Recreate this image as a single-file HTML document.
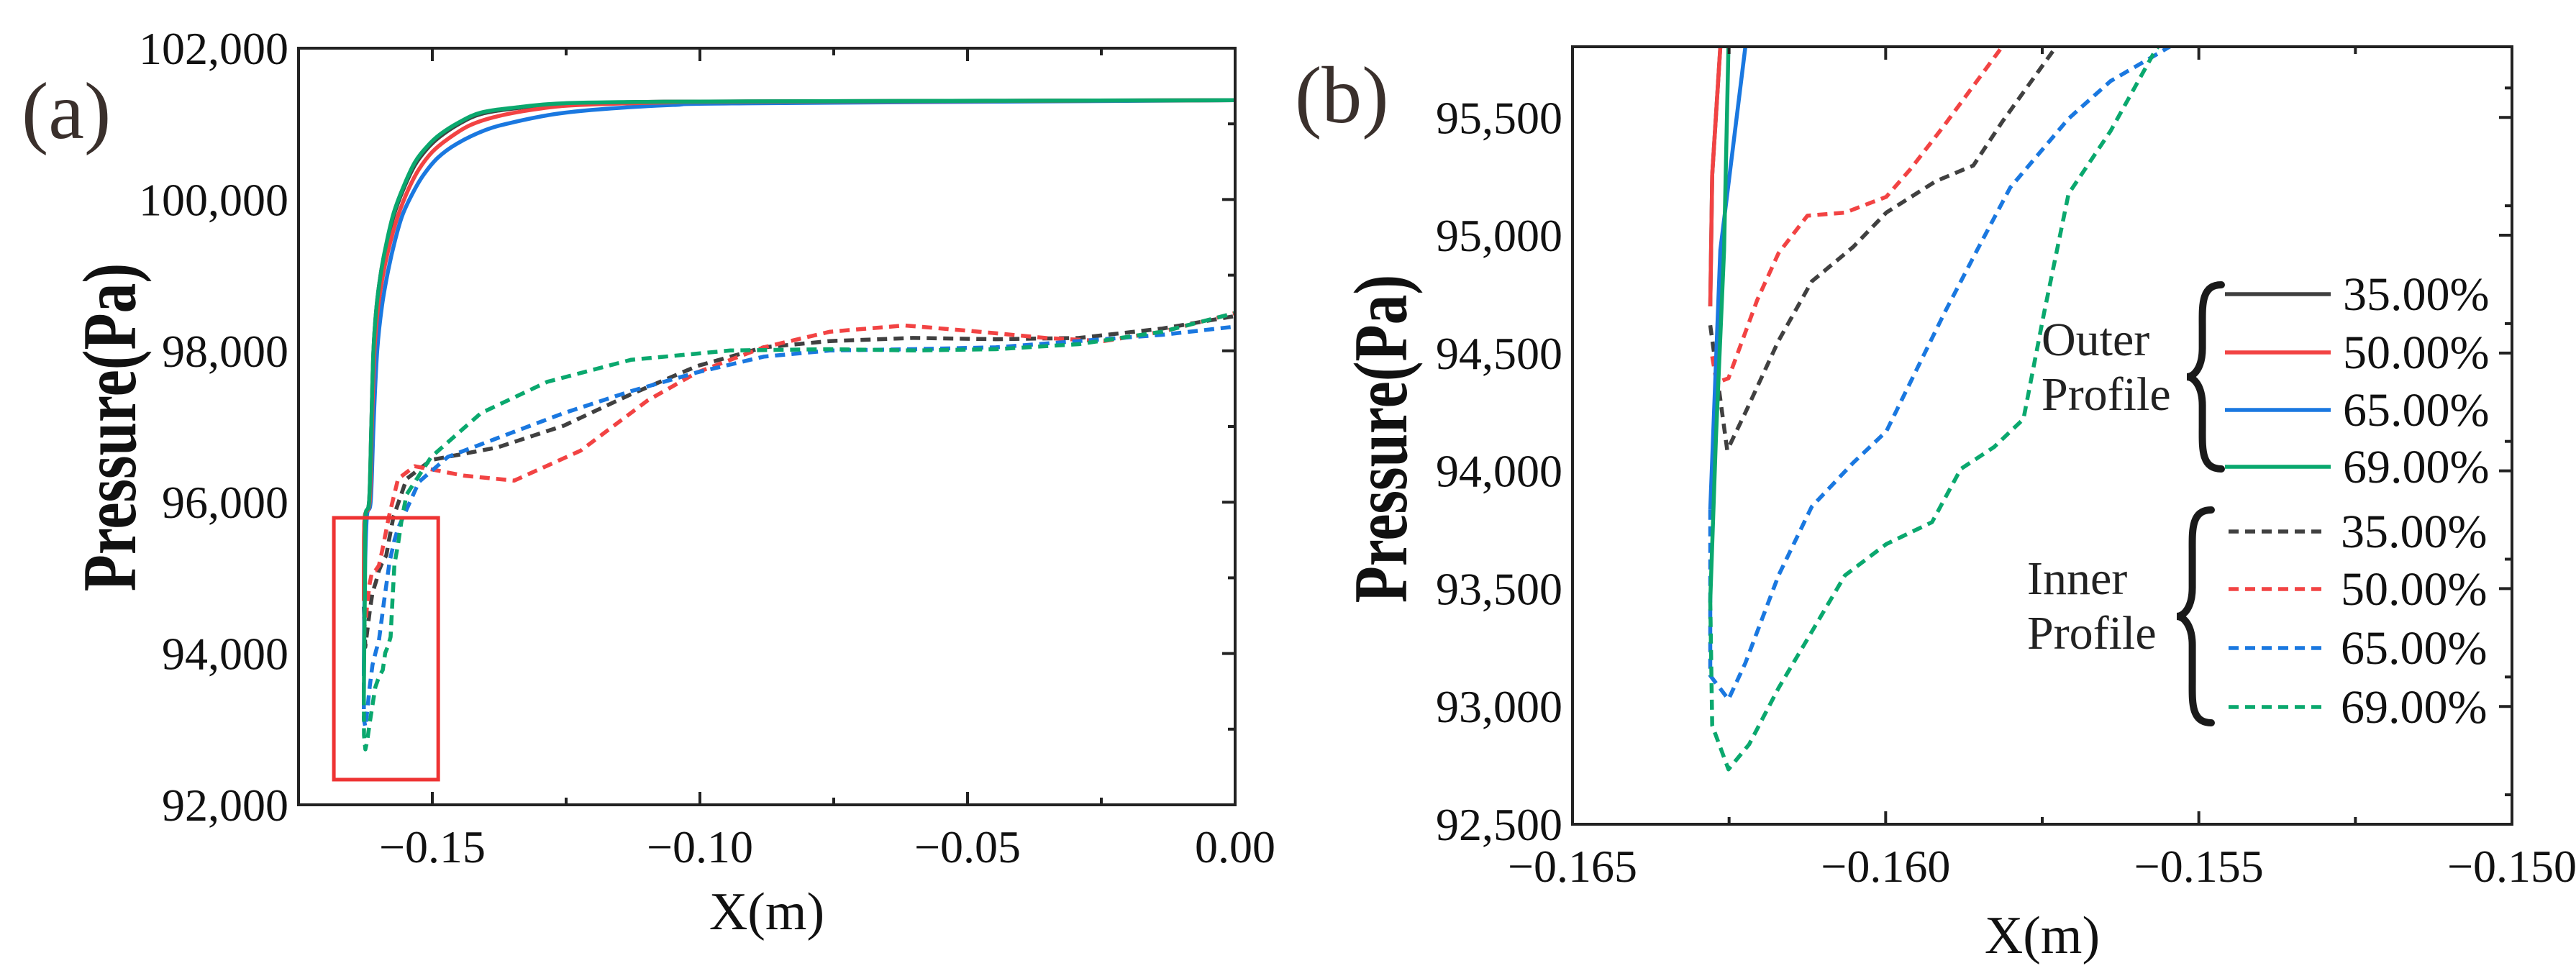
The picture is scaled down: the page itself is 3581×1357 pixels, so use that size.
<!DOCTYPE html>
<html><head><meta charset="utf-8"><style>
html,body{margin:0;padding:0;background:#fff;}
svg{display:block;}
svg text{font-family:"Liberation Serif","DejaVu Serif",serif;}
</style></head><body>
<svg id="chart" width="3581" height="1357" viewBox="0 0 3581 1357" xmlns="http://www.w3.org/2000/svg">
<defs>
<clipPath id="clipA"><rect x="415" y="67" width="1302" height="1052"/></clipPath>
<clipPath id="clipB"><rect x="2186" y="65" width="1306" height="1081"/></clipPath>
</defs>
<g id="panelA"></g>
<g id="panelB"></g>
<g id="legend"></g>
</svg>
<script>
// ---- data ----
const seriesNames = ["outer-35","outer-50","outer-65","outer-69","inner-35","inner-50","inner-65","inner-69"];
const seriesLabels = ["35.00%","50.00%","65.00%","69.00%","35.00%","50.00%","65.00%","69.00%"];
const outer35X = [-0.1628,-0.16277,-0.16264,-0.1618,-0.1614,-0.1610,-0.1604,-0.1595,-0.1585,-0.1572,-0.1555,-0.1533,-0.151,-0.1486,-0.145,-0.1409,-0.134,-0.1254,-0.11,-0.0912,0];
const outer35Y = [94698,95256,95800,96020,97000,98006,98600,99080,99420,99790,100120,100450,100670,100830,101000,101130,101210,101265,101290,101297,101313];
const outer50X = [-0.1628,-0.16277,-0.16264,-0.1617,-0.1613,-0.1608,-0.1601,-0.1590,-0.1578,-0.1564,-0.1545,-0.1525,-0.1500,-0.1471,-0.1430,-0.1378,-0.130,-0.1223,-0.105,-0.0912,0];
const outer50Y = [94698,95256,95800,96020,97000,98006,98600,99080,99450,99790,100130,100400,100630,100800,100980,101100,101200,101250,101285,101292,101313];
const outer65X = [-0.1628,-0.16264,-0.16224,-0.1615,-0.1610,-0.1603,-0.1594,-0.1582,-0.1570,-0.1556,-0.1537,-0.1517,-0.1490,-0.1455,-0.1400,-0.1347,-0.1270,-0.1191,-0.105,-0.0912,0];
const outer65Y = [93835,94937,95800,96020,97000,98006,98600,99080,99450,99790,100080,100320,100550,100734,100920,101024,101130,101190,101250,101272,101313];
const outer69X = [-0.1628,-0.16271,-0.16258,-0.16251,-0.1618,-0.1614,-0.1610,-0.1604,-0.1595,-0.1585,-0.1572,-0.1555,-0.1533,-0.151,-0.1486,-0.145,-0.1409,-0.134,-0.1254,-0.11,-0.0912,0];
const outer69Y = [93450,94140,94937,95800,96020,97000,98006,98600,99080,99450,99825,100150,100486,100700,100858,101020,101148,101220,101272,101290,101297,101313];
const inner35X = [-0.1628,-0.16253,-0.16224,-0.16171,-0.16118,-0.16052,-0.15999,-0.1592,-0.1586,-0.15814,-0.15728,-0.1548,-0.1502,-0.1378,-0.1254,-0.1129,-0.1005,-0.0881,-0.0757,-0.0602,-0.0447,-0.0292,-0.0136,0];
const inner35Y = [94618,94087,94247,94552,94804,94950,95096,95229,95296,95481,95800,96309,96558,96724,97012,97426,97799,98047,98129,98170,98154,98170,98295,98460];
const inner50X = [-0.16277,-0.16270,-0.16251,-0.16205,-0.16171,-0.16125,-0.16065,-0.15999,-0.1596,-0.15906,-0.15814,-0.1564,-0.1533,-0.144,-0.1347,-0.1223,-0.1098,-0.1005,-0.0881,-0.0757,-0.0617,-0.0478,-0.0354,-0.0245,-0.0136,0];
const inner50Y = [94486,94374,94393,94725,94924,95083,95096,95163,95282,95468,95800,96309,96475,96350,96285,96681,97343,97716,98047,98253,98336,98253,98170,98129,98253,98500];
const inner65X = [-0.1628,-0.1628,-0.16251,-0.16224,-0.16171,-0.16118,-0.16052,-0.15999,-0.1596,-0.15906,-0.15854,-0.15801,-0.15708,-0.15641,-0.15555,-0.1525,-0.1471,-0.1378,-0.1254,-0.1129,-0.1005,-0.0881,-0.0757,-0.0602,-0.0447,-0.0292,-0.0136,0];
const inner65Y = [93835,93131,93030,93184,93556,93848,94034,94167,94379,94671,94937,95203,95495,95654,95787,96268,96599,96848,97178,97467,97716,97923,98005,98022,98047,98129,98212,98320];
const inner69X = [-0.1628,-0.16277,-0.16251,-0.16218,-0.16171,-0.16118,-0.16065,-0.15999,-0.15926,-0.1588,-0.15827,-0.1578,-0.15747,-0.15708,-0.15641,-0.15569,-0.1548,-0.1502,-0.1409,-0.1285,-0.1129,-0.0943,-0.0757,-0.0602,-0.0447,-0.0292,-0.0136,0];
const inner69Y = [93450,92919,92733,92839,93078,93317,93556,93689,93782,94008,94101,94220,94671,95176,95442,95787,96103,96599,97178,97591,97881,98005,98022,98005,98022,98088,98253,98500];
const seriesX = [outer35X,outer50X,outer65X,outer69X,inner35X,inner50X,inner65X,inner69X];
const seriesY = [outer35Y,outer50Y,outer65Y,outer69Y,inner35Y,inner50Y,inner65Y,inner69Y];
const seriesColors = ["#404040","#f24343","#1a78e0","#0aa86e","#404040","#f24343","#1a78e0","#0aa86e"];
const drawOrder = [4,5,6,7,2,0,1,3];
const ticksAX = [-0.15,-0.10,-0.05,0.00];
const ticksAXLabels = ["\u22120.15","\u22120.10","\u22120.05","0.00"];
const ticksAY = [92000,94000,96000,98000,100000,102000];
const ticksAYLabels = ["92,000","94,000","96,000","98,000","100,000","102,000"];
const ticksBX = [-0.165,-0.160,-0.155,-0.150];
const ticksBXLabels = ["\u22120.165","\u22120.160","\u22120.155","\u22120.150"];
const ticksBY = [92500,93000,93500,94000,94500,95000,95500];
const ticksBYLabels = ["92,500","93,000","93,500","94,000","94,500","95,000","95,500"];
const zoomBoxX = [-0.1684,-0.1489];
const zoomBoxY = [92333,95793];

const NS="http://www.w3.org/2000/svg";
const SERIF='"Liberation Serif", "DejaVu Serif", serif';
function mk(tag,attrs,parent){const e=document.createElementNS(NS,tag);for(const k in attrs)e.setAttribute(k,attrs[k]);parent.appendChild(e);return e;}

function smoothPath(pts){
  let d='M'+pts[0][0].toFixed(1)+','+pts[0][1].toFixed(1);
  for(let i=0;i<pts.length-1;i++){
    const p0=pts[Math.max(0,i-1)],p1=pts[i],p2=pts[i+1],p3=pts[Math.min(pts.length-1,i+2)];
    const c1=[p1[0]+(p2[0]-p0[0])/6,p1[1]+(p2[1]-p0[1])/6];
    const c2=[p2[0]-(p3[0]-p1[0])/6,p2[1]-(p3[1]-p1[1])/6];
    d+='C'+c1[0].toFixed(1)+','+c1[1].toFixed(1)+' '+c2[0].toFixed(1)+','+c2[1].toFixed(1)+' '+p2[0].toFixed(1)+','+p2[1].toFixed(1);
  }
  return d;
}

function drawPanel(g,cfg){
  const sx=v=>cfg.x0+(v-cfg.xmin)/(cfg.xmax-cfg.xmin)*(cfg.x1-cfg.x0);
  const sy=v=>cfg.y1-(v-cfg.ymin)/(cfg.ymax-cfg.ymin)*(cfg.y1-cfg.y0);
  const lines=mk('g',{'clip-path':cfg.clip},g);
  
  
  for(const i of drawOrder){
    const xs=seriesX[i],ys=seriesY[i];
    const pts=xs.map((x,k)=>[sx(x),sy(ys[k])]);
    let d;
    if(cfg.smooth&&i<4) d=smoothPath(pts);
    else d=pts.map((p,k)=>(k?'L':'M')+p[0].toFixed(1)+','+p[1].toFixed(1)).join('');
    const p=mk('path',{d:d,fill:'none',stroke:seriesColors[i],'stroke-width':5.5,'stroke-linejoin':'round'},lines);
    if(i>=4)p.setAttribute('stroke-dasharray','14 9');
    
    
  }
  if(cfg.box){
    const r=mk('rect',{x:sx(zoomBoxX[0]),y:sy(zoomBoxY[1]),width:sx(zoomBoxX[1])-sx(zoomBoxX[0]),height:sy(zoomBoxY[0])-sy(zoomBoxY[1]),fill:'none',stroke:'#ee3333','stroke-width':5},g);
    
    
  }
  const frame=mk('rect',{x:cfg.x0,y:cfg.y0,width:cfg.x1-cfg.x0,height:cfg.y1-cfg.y0,fill:'none',stroke:'#222','stroke-width':4},g);
  
  
  const tl=18,ml=10;
  cfg.tx.forEach((v,k)=>{
    const x=sx(v);
    mk('line',{x1:x,x2:x,y1:cfg.y1,y2:cfg.y1-tl,stroke:'#222','stroke-width':4},g);
    mk('line',{x1:x,x2:x,y1:cfg.y0,y2:cfg.y0+tl,stroke:'#222','stroke-width':4},g);
    const t=mk('text',{x:x,y:cfg.y1+80,'font-size':64,'font-family':SERIF,'text-anchor':'middle',fill:'#111'},g);
    t.textContent=cfg.txl[k];
    
    
    const h=v+cfg.xstep/2;
    if(h<cfg.xmax){const xm=sx(h);
      mk('line',{x1:xm,x2:xm,y1:cfg.y1,y2:cfg.y1-ml,stroke:'#222','stroke-width':4},g);
      mk('line',{x1:xm,x2:xm,y1:cfg.y0,y2:cfg.y0+ml,stroke:'#222','stroke-width':4},g);}
  });
  cfg.ty.forEach((v,k)=>{
    const y=sy(v);
    mk('line',{x1:cfg.x1,x2:cfg.x1-tl,y1:y,y2:y,stroke:'#222','stroke-width':4},g);
    const t=mk('text',{x:cfg.x0-14,y:y+22,'font-size':64,'font-family':SERIF,'text-anchor':'end',fill:'#111'},g);
    t.textContent=cfg.tyl[k];
    
    
    const h=v+cfg.ystep/2;
    if(h<cfg.ymax){const ym=sy(h);
      mk('line',{x1:cfg.x1,x2:cfg.x1-ml,y1:ym,y2:ym,stroke:'#222','stroke-width':4},g);}
  });
  const xt=mk('text',{x:(cfg.x0+cfg.x1)/2,y:cfg.xty,'font-size':74,'font-family':SERIF,'text-anchor':'middle',fill:'#111'},g);
  xt.textContent='X(m)';
  
  
  const yt=mk('text',{x:0,y:0,'font-size':88,'font-weight':'bold','font-family':SERIF,'text-anchor':'middle',fill:'#111',transform:'translate('+cfg.ytx+','+cfg.yty+') rotate(-90) scale(0.95,1.2)'},g);
  yt.textContent='Pressure(Pa)';
  
  
  const pl=mk('text',{x:cfg.plx,y:cfg.ply,'font-size':112,'font-family':SERIF,fill:'#3a302c'},g);
  pl.textContent=cfg.pl;
  
  
}

drawPanel(document.getElementById('panelA'),{x0:415,x1:1717,y0:67,y1:1119,xmin:-0.175,xmax:0,ymin:92000,ymax:102000,
  tx:ticksAX,txl:ticksAXLabels,ty:ticksAY,tyl:ticksAYLabels,xstep:0.05,ystep:2000,clip:'url(#clipA)',box:true,smooth:true,
  xty:1292,ytx:188,yty:594,plx:30,ply:192,pl:'(a)'});
drawPanel(document.getElementById('panelB'),{x0:2186,x1:3492,y0:65,y1:1146,xmin:-0.165,xmax:-0.150,ymin:92500,ymax:95800,
  tx:ticksBX,txl:ticksBXLabels,ty:ticksBY,tyl:ticksBYLabels,xstep:0.005,ystep:250,clip:'url(#clipB)',box:false,smooth:false,
  xty:1325,ytx:1955,yty:610,plx:1800,ply:170,pl:'(b)'});

// legend
const lg=document.getElementById('legend');
const legendRowY=[409,490,570,649,739,819,901,983];
seriesNames.forEach((n,i)=>{
  const y=legendRowY[i];
  const inner=i>=4;
  const ln=mk('line',{x1:inner?3098:3093,x2:inner?3236:3240,y1:y,y2:y,stroke:seriesColors[i],'stroke-width':5.5},lg);
  if(inner)ln.setAttribute('stroke-dasharray','14 9');
  
  
  const t=mk('text',{x:inner?3254:3257,y:y+22,'font-size':66,'font-family':SERIF,fill:'#111'},lg);
  t.textContent=seriesLabels[i];
  
  
});
[['Outer',2838,494],['Profile',2838,570],['Inner',2818,826],['Profile',2818,902]].forEach(a=>{
  const t=mk('text',{x:a[1],y:a[2],'font-size':66,'font-family':SERIF,fill:'#222'},lg);
  t.textContent=a[0];
  
  
});
function brace(x,y0,y1){
  const m=(y0+y1)/2,w=48;
  const d=`M${x+w},${y0} C${x+w*0.4},${y0} ${x+w*0.45},${y0+30} ${x+w*0.45},${y0+60} L${x+w*0.45},${m-40} C${x+w*0.45},${m-12} ${x+w*0.2},${m} ${x},${m} C${x+w*0.2},${m} ${x+w*0.45},${m+12} ${x+w*0.45},${m+40} L${x+w*0.45},${y1-60} C${x+w*0.45},${y1-30} ${x+w*0.4},${y1} ${x+w},${y1}`;
  const p=mk('path',{d:d,fill:'none',stroke:'#1a1a1a','stroke-width':10,'stroke-linecap':'round'},lg);
  
  
}
brace(3040,396,652);
brace(3026,709,1005);
</script>
</body></html>
